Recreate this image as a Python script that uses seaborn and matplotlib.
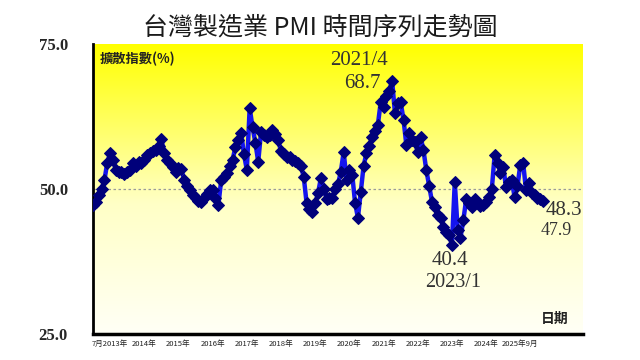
import numpy as np
import pandas as pd
import seaborn as sb
import matplotlib.pyplot as plt
from matplotlib.colors import LinearSegmentedColormap

sb.set_style("white")
plt.rcParams["font.family"] = ["Noto Sans CJK TC", "DejaVu Sans"]

TITLE = "台灣製造業 PMI 時間序列走勢圖"

# monthly PMI, 2012/7 .. 2025/9
months = pd.period_range("2012-07", "2025-09", freq="M").astype(str)
pmi = [
    47.2, 47.8, 49.0, 50.0, 51.5, 54.5, 56.2, 55.0, 53.3, 53.0,
    53.0, 52.6, 53.0, 53.3, 54.5, 54.0, 54.7, 54.5, 55.0, 55.9,
    56.2, 56.5, 56.7, 57.5, 58.6, 56.2, 55.0, 54.5, 53.8, 53.0,
    53.6, 53.5, 51.5, 50.5, 49.8, 49.0, 48.4, 48.0, 47.8, 48.4,
    49.2, 49.8, 49.8, 48.5, 47.2, 51.5, 52.0, 52.8, 54.0, 55.0,
    57.3, 58.5, 59.7, 56.0, 53.3, 64.0, 60.7, 58.0, 54.7, 59.9,
    59.3, 59.0, 59.3, 60.2, 59.5, 58.5, 56.5, 56.0, 55.5, 55.5,
    55.0, 54.8, 54.5, 54.0, 52.0, 47.5, 46.5, 46.0, 47.5, 49.3,
    51.9, 50.0, 48.3, 48.4, 48.5, 50.0, 50.8, 53.0, 56.4, 51.6,
    53.3, 52.5, 47.6, 45.0, 49.5, 54.0, 56.2, 57.5, 59.0, 60.0,
    61.1, 65.0, 64.2, 66.0, 67.0, 68.7, 63.1, 64.9, 65.0, 62.0,
    57.6, 59.7, 58.5, 58.1, 56.4, 59.0, 56.7, 53.3, 50.5, 47.8,
    46.9, 45.5, 45.0, 43.4, 42.5, 42.0, 40.4, 51.2, 43.0, 41.6,
    44.6, 48.2, 47.5, 46.9, 48.3, 47.6, 47.0, 47.2, 47.8, 48.6,
    50.0, 55.9, 54.5, 52.8, 53.8, 50.3, 51.2, 51.5, 48.6, 50.5,
    54.2, 54.5, 49.8, 51.0, 49.3, 49.0, 48.4, 48.3, 47.9,
]
year_labels = ["7月2013年", "2014年", "2015年", "2016年", "2017年", "2018年",
               "2019年", "2020年", "2021年", "2022年", "2023年", "2024年",
               "2025年9月"]

df = pd.DataFrame({"month": months, "PMI": pmi})
df["t"] = np.arange(len(df))

fig = plt.figure(figsize=(6.4, 3.6), dpi=100)
ax = fig.add_axes([0.1453, 0.073, 0.7656, 0.804])

XMAX = 172
cmap = LinearSegmentedColormap.from_list(
    "bg", [(0, "#FFFFF6"), (0.45, "#FFFFC6"), (1, "#FFFF00")])
ax.imshow(np.linspace(0, 1, 256)[:, None], extent=[0, XMAX, 25, 75],
          aspect="auto", origin="lower", cmap=cmap, zorder=0)

ax.axhline(50, color="#9a9a9a", ls=(0, (2, 2)), lw=0.9, zorder=1)

sb.lineplot(df, x="t", y="PMI", ax=ax, color="#1414ee", linewidth=3.2,
            marker="D", markersize=5.8, markerfacecolor="#00007a",
            markeredgecolor="#00007a", zorder=3)

ax.set_xlim(0, XMAX)
ax.set_ylim(25, 75)
ax.set_xlabel("")
ax.set_ylabel("")

# ticks every half year, a label every year
ax.set_xticks(np.arange(0, 169, 6))
labels = [""] * len(ax.get_xticks())
for k, lab in enumerate(year_labels):
    labels[1 + 2 * k] = lab
ax.set_xticklabels(labels, fontsize=5.5, color="#222222")
ax.tick_params(axis="x", direction="inout", length=3, width=1.4, pad=3)

ax.set_yticks([25, 50, 75])
ax.set_yticklabels(["25.0", "50.0", "75.0"], family="Liberation Serif",
                   fontsize=12, weight="bold")
ax.tick_params(axis="y", direction="in", length=6, width=1.5, pad=18)

for side in ["top", "right"]:
    ax.spines[side].set_visible(False)
ax.spines["left"].set_linewidth(2)
ax.spines["bottom"].set_linewidth(2.5)
ax.spines["left"].set_color("black")
ax.spines["bottom"].set_color("black")

serif = dict(family="Liberation Serif", color="#333333")
ax.text(93.3, 72.2, "2021/4", ha="center", va="center", fontsize=15, **serif)
ax.text(101, 68.2, "68.7", ha="right", va="center", fontsize=15, **serif)
ax.text(125.3, 37.7, "40.4", ha="center", va="center", fontsize=15, **serif)
ax.text(126.3, 33.8, "2023/1", ha="center", va="center", fontsize=14.5, **serif)
ax.text(165.2, 46.3, "48.3", ha="center", va="center", fontsize=15, **serif)
ax.text(162.5, 42.9, "47.9", ha="center", va="center", fontsize=13, **serif)

ax.text(2.5, 72.5, "擴散指數(%)", ha="left", va="center", fontsize=9.5,
        weight="bold", color="#222222")
ax.text(162, 27.6, "日期", ha="center", va="center", fontsize=10,
        weight="bold", color="#222222")

fig.text(0.5, 0.925, TITLE, ha="center", va="center", fontsize=18,
         color="#1a1a1a")

plt.savefig("out.png", dpi=100)
